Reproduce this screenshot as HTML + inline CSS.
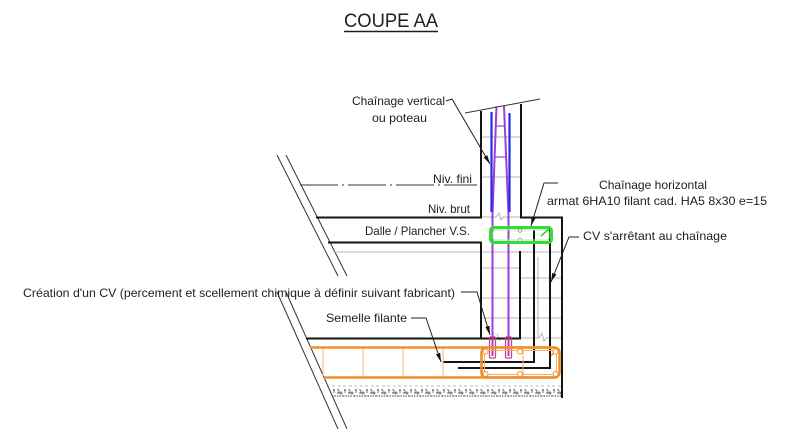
<!DOCTYPE html>
<html><head><meta charset="utf-8"><style>
html,body{margin:0;padding:0;background:#fff;}
svg{display:block;}
text{font-family:"Liberation Sans",Arial,sans-serif;fill:#1e1e1e;}
</style></head><body>
<svg width="800" height="429" viewBox="0 0 800 429" xmlns="http://www.w3.org/2000/svg">
<defs>
<marker id="ar" markerWidth="10" markerHeight="6" refX="9" refY="3" orient="auto" markerUnits="userSpaceOnUse">
<path d="M0,0.8 L9,3 L0,5.2 Z" fill="#111"/>
</marker>
<pattern id="hat" x="332" y="385" width="11" height="12" patternUnits="userSpaceOnUse">
<line x1="0" y1="1" x2="3" y2="1" stroke="#bbb" stroke-width="1"/>
<line x1="6" y1="1" x2="9" y2="1" stroke="#bbb" stroke-width="1"/>
<path d="M1,5 l2,0 M2,4 l0,4 M5,5 q2,-1 2,1 q0,2 -2,2 l3,0 M9,7 a1,1 0 1 0 0.1,0" stroke="#666" stroke-width="0.9" fill="none"/>
<line x1="0" y1="11" x2="11" y2="11" stroke="#444" stroke-width="0.9" stroke-dasharray="1.5 1"/>
</pattern>
</defs>

<!-- Title -->
<text x="344" y="27" font-size="19" textLength="94" lengthAdjust="spacingAndGlyphs">COUPE AA</text>
<line x1="344" y1="31.5" x2="438" y2="31.5" stroke="#1e1e1e" stroke-width="1.5"/>

<!-- Left diagonal lines -->
<g stroke="#333" stroke-width="1">
<line x1="277" y1="155" x2="338" y2="276"/>
<line x1="286" y1="155" x2="347" y2="276"/>
<line x1="277" y1="292" x2="338" y2="429"/>
<line x1="286" y1="292" x2="347" y2="429"/>
</g>

<!-- Niv fini dash-dot -->
<line x1="300" y1="185" x2="477" y2="185" stroke="#333" stroke-width="1" stroke-dasharray="38 4 2 4"/>

<!-- gray lines -->
<g stroke="#b4b4b4" stroke-width="1">
<line x1="481" y1="137" x2="521" y2="137"/>
<line x1="481" y1="177" x2="521" y2="177"/>
<path d="M481,217 L496,217 L499,213 L501,220 L503,217 L521,217" fill="none"/>
<line x1="333" y1="252" x2="562" y2="252"/>
<line x1="481" y1="268" x2="520" y2="268"/>
<line x1="481" y1="298" x2="520" y2="298"/>
<line x1="481" y1="318" x2="520" y2="318"/>
<line x1="520" y1="278" x2="562" y2="278"/>
<line x1="520" y1="298" x2="562" y2="298"/>
<line x1="520" y1="318" x2="562" y2="318"/>
<path d="M520,338 L539,338 L542,333 L544,341 L546,338 L562,338" fill="none"/>
<path d="M497,334 L500,341 M496,338 L503,338" fill="none"/>
<line x1="538" y1="257" x2="538" y2="338"/>
</g>

<!-- Top slanted cut line -->
<line x1="465" y1="113" x2="540" y2="99" stroke="#333" stroke-width="1"/>

<!-- structural black lines -->
<g stroke="#151515" stroke-width="2" fill="none">
<line x1="481" y1="111" x2="481" y2="218"/>
<line x1="521" y1="104" x2="521" y2="218"/>
<line x1="316" y1="217.5" x2="482" y2="217.5"/>
<line x1="520" y1="217.5" x2="563" y2="217.5"/>
<line x1="562" y1="217" x2="562" y2="398"/>
<line x1="328" y1="242.5" x2="482" y2="242.5"/>
<line x1="481" y1="242" x2="481" y2="339"/>
<line x1="520" y1="251" x2="520" y2="339"/>
<line x1="306" y1="338.5" x2="521" y2="338.5"/>
<polyline points="534,230 534,362 443,362"/>
<polyline points="550,229 550,368 458,368"/>
</g>

<!-- purple/blue vertical rebars -->
<g stroke-width="2" fill="none">
<polyline points="496.5,106 492.5,215 492.5,356" stroke="#9b3fd9"/>
<polyline points="504,106 508.5,215 508.5,356" stroke="#9b3fd9"/>
<line x1="495" y1="126" x2="505" y2="126" stroke="#9b3fd9" stroke-width="1.2"/>
<line x1="494" y1="157" x2="507" y2="157" stroke="#9b3fd9" stroke-width="1.2"/>
<line x1="491.5" y1="112" x2="491.5" y2="212" stroke="#2a2ae0" stroke-width="2.2"/>
<line x1="509.5" y1="113" x2="509.5" y2="212" stroke="#2a2ae0" stroke-width="2.2"/>
</g>
<!-- pink anchors -->
<g stroke="#d8407a" stroke-width="1.3" fill="none">
<rect x="489.5" y="337" width="6" height="21" rx="1"/>
<rect x="505.5" y="337" width="6" height="21" rx="1"/>
</g>

<!-- green chainage horizontal -->
<rect x="490.5" y="227.5" width="61" height="15" rx="3" fill="none" stroke="#33dd33" stroke-width="3"/>
<rect x="493" y="230" width="56" height="10" rx="2" fill="none" stroke="#a8f0a8" stroke-width="1"/>
<circle cx="520" cy="230.5" r="1.8" fill="#fff" stroke="#888" stroke-width="0.8"/>
<circle cx="520" cy="240" r="1.8" fill="#fff" stroke="#888" stroke-width="0.8"/>
<line x1="541" y1="236" x2="549" y2="229" stroke="#33cc33" stroke-width="1.5"/>

<!-- Orange footing -->
<g stroke="#f0902a" fill="none">
<line x1="310" y1="347.5" x2="556" y2="347.5" stroke-width="2.6"/>
<line x1="324" y1="377.5" x2="556" y2="377.5" stroke-width="2.6"/>
<rect x="481.5" y="347.5" width="78" height="30" rx="5" stroke-width="2.6"/>
<rect x="484.5" y="350.5" width="72" height="24" rx="3" stroke-width="1" stroke="#f5ae68"/>
<g stroke="#f5b274" stroke-width="1">
<line x1="323" y1="349" x2="323" y2="376"/>
<line x1="363" y1="349" x2="363" y2="376"/>
<line x1="403" y1="349" x2="403" y2="376"/>
<line x1="443" y1="349" x2="443" y2="376"/>
<line x1="523" y1="349" x2="523" y2="376"/>
</g>
<line x1="551" y1="356" x2="557" y2="349" stroke-width="1.5"/>
<g stroke-width="1" fill="#fff">
<circle cx="485.5" cy="351.5" r="2.5"/>
<circle cx="520" cy="351.5" r="2.5"/>
<circle cx="555.5" cy="351.5" r="2.5"/>
<circle cx="485.5" cy="374" r="2.5"/>
<circle cx="520" cy="374" r="2.5"/>
<circle cx="555.5" cy="374" r="2.5"/>
</g>
</g>

<!-- hatch ground -->
<rect x="332" y="385" width="229" height="12" fill="url(#hat)"/>

<!-- Leaders -->
<g stroke="#222" stroke-width="1" fill="none">
<polyline points="446,101 452,99 490,164" marker-end="url(#ar)"/>
<polyline points="558,183 544,183 531,226" marker-end="url(#ar)"/>
<polyline points="579,237 569,237 551,282" marker-end="url(#ar)"/>
<polyline points="461,292 477,292 490,335" marker-end="url(#ar)"/>
<polyline points="411,318 426,318 441,362" marker-end="url(#ar)"/>
</g>

<!-- Labels -->
<g font-size="12">
<text x="352" y="105" textLength="93" lengthAdjust="spacingAndGlyphs">Chaînage vertical</text>
<text x="372" y="122" textLength="55" lengthAdjust="spacingAndGlyphs">ou poteau</text>
<text x="433" y="183" textLength="39" lengthAdjust="spacingAndGlyphs">Niv. fini</text>
<text x="428" y="213" textLength="42" lengthAdjust="spacingAndGlyphs">Niv. brut</text>
<text x="365" y="235" textLength="105" lengthAdjust="spacingAndGlyphs">Dalle / Plancher V.S.</text>
<text x="599" y="189" textLength="108" lengthAdjust="spacingAndGlyphs">Chaînage horizontal</text>
<text x="547" y="205" textLength="220" lengthAdjust="spacingAndGlyphs">armat 6HA10 filant cad. HA5 8x30 e=15</text>
<text x="583" y="240" textLength="144" lengthAdjust="spacingAndGlyphs">CV s'arrêtant au chaînage</text>
<text x="23" y="297" textLength="432" lengthAdjust="spacingAndGlyphs">Création d'un CV (percement et scellement chimique à définir suivant fabricant)</text>
<text x="326" y="322" textLength="81" lengthAdjust="spacingAndGlyphs">Semelle filante</text>
</g>
</svg>
</body></html>
